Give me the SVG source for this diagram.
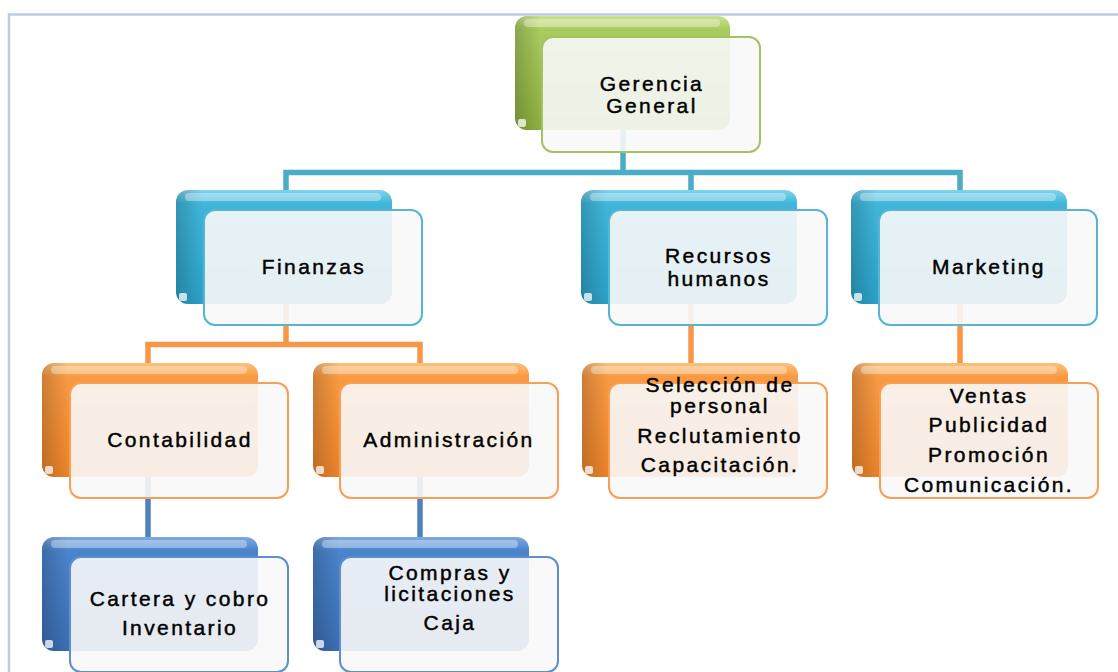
<svg xmlns="http://www.w3.org/2000/svg" width="1118" height="672" viewBox="0 0 1118 672">
<style>
.t{font-family:"Liberation Sans",Arial,sans-serif;font-size:21px;letter-spacing:2.4px;fill:#000;stroke:#000;stroke-width:0.45;text-anchor:middle}
.front{fill:#f8f8f8;fill-opacity:0.9;stroke-width:2}
.shine{fill:#fff;opacity:0.35}
.shade{fill:url(#sideShade)}
.dot{fill:#fff;opacity:0.75}
.c{fill:none;stroke-width:5.5;stroke-linecap:butt;stroke-linejoin:miter}
.cc{stroke:#4bacc6}
.co{stroke:#f79646}
.cb{stroke:#4f81bd}
</style>
<defs>
<linearGradient id="gG" x1="0" y1="0" x2="0" y2="1">
<stop offset="0" stop-color="#c9e38a"/><stop offset="0.12" stop-color="#a9cb5f"/><stop offset="1" stop-color="#8cae40"/>
</linearGradient>
<linearGradient id="gC" x1="0" y1="0" x2="0" y2="1">
<stop offset="0" stop-color="#7fd4ec"/><stop offset="0.12" stop-color="#3fb6da"/><stop offset="1" stop-color="#2b9fc6"/>
</linearGradient>
<linearGradient id="gO" x1="0" y1="0" x2="0" y2="1">
<stop offset="0" stop-color="#fcc17d"/><stop offset="0.12" stop-color="#f99a42"/><stop offset="1" stop-color="#e9822a"/>
</linearGradient>
<linearGradient id="gB" x1="0" y1="0" x2="0" y2="1">
<stop offset="0" stop-color="#7eaae0"/><stop offset="0.12" stop-color="#4a84cc"/><stop offset="1" stop-color="#3a6db2"/>
</linearGradient>
<linearGradient id="sideShade" x1="0" y1="0" x2="1" y2="0">
<stop offset="0" stop-color="#000" stop-opacity="0.18"/><stop offset="0.12" stop-color="#000" stop-opacity="0"/><stop offset="1" stop-color="#000" stop-opacity="0"/>
</linearGradient>
</defs>

<rect x="0" y="0" width="1118" height="672" fill="#fff"/>
<polyline points="9,672 9,14.5 1118,14.5" fill="none" stroke="#b9cde5" stroke-width="2.5"/>

<g id="connectors">
<path class="c cc" d="M623,130 V172.5 M286,190 V172.5 H960 V190 M691,172.5 V190"/>
<path class="c co" d="M286,303 V344.5 M148,363 V344.5 H420 V363"/>
<path class="c co" d="M691,303 V363"/>
<path class="c co" d="M960,303 V363"/>
<path class="c cb" d="M148,477 V537"/>
<path class="c cb" d="M420,477 V537"/>
</g>

<g id="gerencia">
<rect x="515" y="16" width="215" height="114" rx="12" fill="url(#gG)"/>
<rect class="shade" x="515" y="16" width="215" height="114" rx="12"/>
<rect class="shine" x="524" y="19" width="196" height="8" rx="4"/>
<rect class="dot" x="518" y="119" width="8" height="8" rx="2"/>
<rect class="front" x="542" y="37" width="218" height="115" rx="11" stroke="#a5c262"/>
<text class="t" x="652" y="91">Gerencia</text>
<text class="t" x="652" y="113">General</text>
</g>

<g id="finanzas">
<rect x="176" y="190" width="216" height="114" rx="12" fill="url(#gC)"/>
<rect class="shade" x="176" y="190" width="216" height="114" rx="12"/>
<rect class="shine" x="185" y="193" width="196" height="8" rx="4"/>
<rect class="dot" x="179" y="293" width="8" height="8" rx="2"/>
<rect class="front" x="204" y="210" width="218" height="115" rx="11" stroke="#55b5d3"/>
<text class="t" x="314" y="274">Finanzas</text>
</g>

<g id="recursos">
<rect x="581" y="190" width="216" height="114" rx="12" fill="url(#gC)"/>
<rect class="shade" x="581" y="190" width="216" height="114" rx="12"/>
<rect class="shine" x="590" y="193" width="196" height="8" rx="4"/>
<rect class="dot" x="584" y="293" width="8" height="8" rx="2"/>
<rect class="front" x="609" y="210" width="218" height="115" rx="11" stroke="#55b5d3"/>
<text class="t" x="719" y="263">Recursos</text>
<text class="t" x="719" y="286">humanos</text>
</g>

<g id="marketing">
<rect x="851" y="190" width="216" height="114" rx="12" fill="url(#gC)"/>
<rect class="shade" x="851" y="190" width="216" height="114" rx="12"/>
<rect class="shine" x="860" y="193" width="196" height="8" rx="4"/>
<rect class="dot" x="854" y="293" width="8" height="8" rx="2"/>
<rect class="front" x="879" y="210" width="218" height="115" rx="11" stroke="#55b5d3"/>
<text class="t" x="989" y="274">Marketing</text>
</g>

<g id="contabilidad">
<rect x="42" y="363" width="216" height="114" rx="12" fill="url(#gO)"/>
<rect class="shade" x="42" y="363" width="216" height="114" rx="12"/>
<rect class="shine" x="51" y="366" width="196" height="8" rx="4"/>
<rect class="dot" x="45" y="466" width="8" height="8" rx="2"/>
<rect class="front" x="70" y="383" width="218" height="115" rx="11" stroke="#f7a055"/>
<text class="t" x="180" y="447">Contabilidad</text>
</g>

<g id="administracion">
<rect x="313" y="363" width="216" height="114" rx="12" fill="url(#gO)"/>
<rect class="shade" x="313" y="363" width="216" height="114" rx="12"/>
<rect class="shine" x="322" y="366" width="196" height="8" rx="4"/>
<rect class="dot" x="316" y="466" width="8" height="8" rx="2"/>
<rect class="front" x="340" y="383" width="218" height="115" rx="11" stroke="#f7a055"/>
<text class="t" x="449" y="447">Administración</text>
</g>

<g id="seleccion">
<rect x="582" y="363" width="216" height="114" rx="12" fill="url(#gO)"/>
<rect class="shade" x="582" y="363" width="216" height="114" rx="12"/>
<rect class="shine" x="591" y="366" width="196" height="8" rx="4"/>
<rect class="dot" x="585" y="466" width="8" height="8" rx="2"/>
<rect class="front" x="609" y="383" width="218" height="115" rx="11" stroke="#f7a055"/>
<text class="t" x="720" y="392">Selección de</text>
<text class="t" x="720" y="413">personal</text>
<text class="t" x="720" y="443">Reclutamiento</text>
<text class="t" x="720" y="472">Capacitación.</text>
</g>

<g id="ventas">
<rect x="852" y="363" width="216" height="114" rx="12" fill="url(#gO)"/>
<rect class="shade" x="852" y="363" width="216" height="114" rx="12"/>
<rect class="shine" x="861" y="366" width="196" height="8" rx="4"/>
<rect class="dot" x="855" y="466" width="8" height="8" rx="2"/>
<rect class="front" x="880" y="383" width="218" height="115" rx="11" stroke="#f7a055"/>
<text class="t" x="989" y="403">Ventas</text>
<text class="t" x="989" y="432">Publicidad</text>
<text class="t" x="989" y="462">Promoción</text>
<text class="t" x="989" y="492">Comunicación.</text>
</g>

<g id="cartera">
<rect x="42" y="537" width="216" height="114" rx="12" fill="url(#gB)"/>
<rect class="shade" x="42" y="537" width="216" height="114" rx="12"/>
<rect class="shine" x="51" y="540" width="196" height="8" rx="4"/>
<rect class="dot" x="45" y="640" width="8" height="8" rx="2"/>
<rect class="front" x="70" y="557" width="218" height="115" rx="11" stroke="#5f8ecb"/>
<text class="t" x="180" y="606">Cartera y cobro</text>
<text class="t" x="180" y="635">Inventario</text>
</g>

<g id="compras">
<rect x="313" y="537" width="216" height="114" rx="12" fill="url(#gB)"/>
<rect class="shade" x="313" y="537" width="216" height="114" rx="12"/>
<rect class="shine" x="322" y="540" width="196" height="8" rx="4"/>
<rect class="dot" x="316" y="640" width="8" height="8" rx="2"/>
<rect class="front" x="340" y="557" width="218" height="115" rx="11" stroke="#5f8ecb"/>
<text class="t" x="450" y="580">Compras y</text>
<text class="t" x="450" y="601">licitaciones</text>
<text class="t" x="450" y="630">Caja</text>
</g>
</svg>
